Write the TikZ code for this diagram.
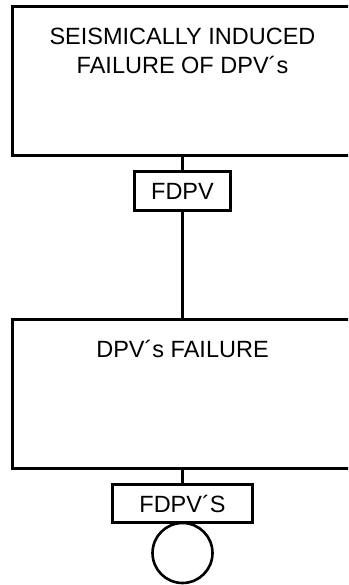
\documentclass[tikz,border=0pt]{standalone}
\usepackage{fontspec}
\setmainfont{Liberation Sans}
\usetikzlibrary{positioning}
\tikzset{
  event/.style={rectangle, draw, line width=3pt, outer sep=0pt, inner sep=0pt,
    minimum width=341pt, minimum height=149pt},
  gate/.style={rectangle, draw, line width=3pt, outer sep=0pt, inner sep=0pt,
    minimum height=38.5pt, font=\fontsize{23.5}{29}\selectfont},
  basic/.style={circle, draw, line width=2.6pt, outer sep=0pt, inner sep=0pt,
    minimum size=60pt},
  caption/.style={align=center, inner sep=0pt, font=\fontsize{23.5}{29}\selectfont},
  link/.style={line width=3pt},
}
\begin{document}
\begin{tikzpicture}[x=1pt, y=1pt, node distance=16pt]
\useasboundingbox (0,0) rectangle (348,585);
\clip (0,0) rectangle (348,585);
\node[event] (seis) at (182.5,503.5) {};
\node[caption, anchor=north] (seistxt) at ([yshift=-21pt]seis.north) {SEISMICALLY INDUCED\\FAILURE OF DPV´s};
\node[gate, minimum width=96pt, below=of seis] (fdpv) {FDPV};
\node[event, below=109pt of fdpv] (fail) {};
\node[caption, anchor=north] (failtxt) at ([yshift=-21pt]fail.north) {DPV´s FAILURE};
\node[gate, minimum width=140pt, below=of fail] (fdpvs) {FDPV´S};
\node[basic, below=0pt of fdpvs] (undev) {};

\draw[link] (seis.south)--(fdpv.north);
\draw[link] (fdpv.south)--(fail.north);
\draw[link] (fail.south)--(fdpvs.north);
\end{tikzpicture}
\end{document}
